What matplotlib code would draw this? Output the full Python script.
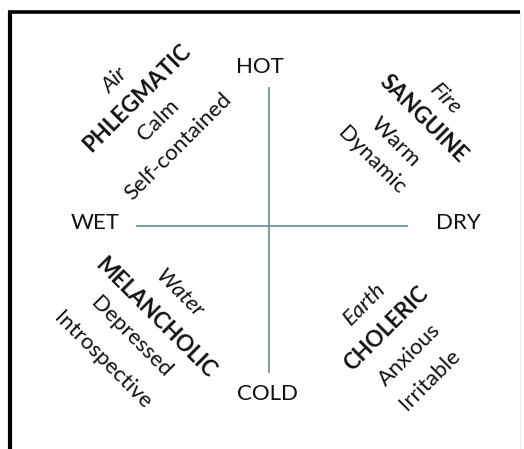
import matplotlib.pyplot as plt

# ---- labels ----
axis_labels = ['HOT', 'WET', 'DRY', 'COLD']
phlegmatic = ['Air', 'PHLEGMATIC', 'Calm', 'Self-contained']
sanguine = ['Fire', 'SANGUINE', 'Warm', 'Dynamic']
melancholic = ['Water', 'MELANCHOLIC', 'Depressed', 'Introspective']
choleric = ['Earth', 'CHOLERIC', 'Anxious', 'Irritable']

# ---- layout (pixel coords, y down) ----
axis_pos = [(260, 67), (95, 223), (458, 223), (267, 394)]
blocks = [
    (phlegmatic, 45, [(115, 80), (137, 98), (158, 120), (178, 147)]),
    (sanguine, -45, [(446, 99), (423, 119), (395, 142), (372, 161)]),
    (melancholic, -45, [(180, 294), (155, 318), (131, 337), (103, 360)]),
    (choleric, 45, [(365, 304), (386, 329), (410, 355), (430, 380)]),
]
line_styles = [('italic', 'normal'), ('normal', 'bold'),
               ('normal', 'normal'), ('normal', 'normal')]

plt.rcParams['font.family'] = ['Lato', 'DejaVu Sans']
fs = 16
cross_col = '#6a8799'

fig = plt.figure(figsize=(5.24, 4.49), dpi=100)
ax = fig.add_axes([0, 0, 1, 1])
ax.set_xlim(0, 524)
ax.set_ylim(449, 0)
ax.axis('off')

# frame (left + top, faint right)
ax.plot([10, 10], [11, 449], color='black', linewidth=3, solid_capstyle='butt')
ax.plot([8, 520], [11.5, 11.5], color='black', linewidth=2.6, solid_capstyle='butt')
ax.plot([520, 520], [13, 449], color='#ececec', linewidth=1)

# cross
ax.plot([269, 269], [88, 372], color=cross_col, linewidth=1.2)
ax.plot([137, 407], [226, 226], color=cross_col, linewidth=1.2)

for lab, (x, y) in zip(axis_labels, axis_pos):
    ax.text(x, y, lab, fontsize=fs, ha='center', va='center', color='#111111')

for labels, ang, pos in blocks:
    for lab, (x, y), (st, wt) in zip(labels, pos, line_styles):
        ax.text(x, y, lab, fontsize=fs, rotation=ang, rotation_mode='anchor',
                ha='center', va='center', style=st, weight=wt, color='#111111')

fig.savefig('out.png', dpi=100)
